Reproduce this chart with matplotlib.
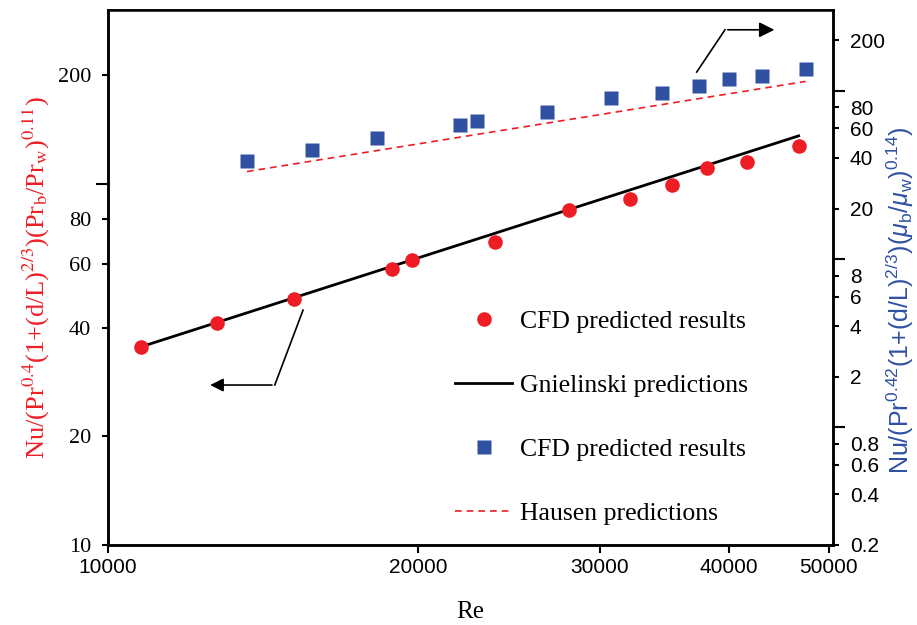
import numpy as np
import matplotlib
matplotlib.use("Agg")
import matplotlib.pyplot as plt
from matplotlib.ticker import FixedLocator, FuncFormatter, NullFormatter
from matplotlib.lines import Line2D

plt.rcParams['font.family'] = ['Liberation Sans', 'DejaVu Sans']
plt.rcParams['mathtext.fontset'] = 'custom'
plt.rcParams['mathtext.rm'] = 'Liberation Sans'
plt.rcParams['mathtext.it'] = 'Liberation Sans:italic'

# CFD results, left axis (red circles)
re_red = [10770, 12760, 15160, 18870, 19730, 23750, 28030, 32120, 35280, 38070, 41640, 46770]
nu_red = [35.4, 41.2, 48.0, 58.1, 61.6, 69.1, 84.7, 90.9, 99.4, 110.7, 115.0, 127.5]

# Gnielinski predictions (straight line in log-log)
re_gn = [10770, 46770]
nu_gn = [35.4, 135.8]

# CFD results, right axis (blue squares)
re_blue = [13640, 15780, 18240, 21970, 22820, 26680, 30780, 34500, 37400, 40000, 43050, 47500]
nu_blue = [38.1, 44.3, 52.2, 63.2, 65.9, 74.5, 90.3, 96.7, 106.5, 117.2, 122.1, 134.4]

# Hausen predictions
re_ha = [13640, 47500]
nu_ha = [33.2, 114.0]

x_ticks = [10000, 20000, 30000, 40000, 50000]
left_ticks = [10, 20, 40, 60, 80, 200]
left_decades = [100]
right_ticks = [0.2, 0.4, 0.6, 0.8, 2, 4, 6, 8, 20, 40, 60, 80, 200]
right_decades = [1, 10, 100]

red = '#ee1d24'
blue = '#3050a2'

fig = plt.figure(figsize=(9.17, 6.25), dpi=100)
ax = fig.add_subplot(111)
fig.subplots_adjust(left=0.1178, right=0.9084, top=0.984, bottom=0.128)
ax2 = ax.twinx()

ax.plot(re_gn, nu_gn, color='black', lw=2.0, zorder=3)
ax.plot(re_red, nu_red, 'o', color=red, ms=10.5, mec='none', zorder=4)
ax2.plot(re_ha, nu_ha, '--', color=red, lw=1.2, dashes=(4, 3))
ax2.plot(re_blue, nu_blue, 's', color=blue, ms=9.5, mec='none')

fmt = FuncFormatter(lambda v, p: f'{v:g}')
for a in (ax, ax2):
    a.set_xscale('log')
    a.set_yscale('log')
ax.set_xlim(10000, 50500)
ax.set_ylim(10, 303)
ax2.set_ylim(0.2, 303)

ax.xaxis.set_major_locator(FixedLocator(x_ticks))
ax.xaxis.set_major_formatter(fmt)
ax.xaxis.set_minor_locator(FixedLocator([]))
ax.yaxis.set_major_locator(FixedLocator(left_ticks))
ax.yaxis.set_major_formatter(fmt)
ax.yaxis.set_minor_locator(FixedLocator(left_decades))
ax.yaxis.set_minor_formatter(NullFormatter())
ax2.yaxis.set_major_locator(FixedLocator(right_ticks))
ax2.yaxis.set_major_formatter(fmt)
ax2.yaxis.set_minor_locator(FixedLocator(right_decades))
ax2.yaxis.set_minor_formatter(NullFormatter())

for a in (ax, ax2):
    a.tick_params(axis='y', which='major', length=4, width=1.5, labelsize=15,
                  colors='black', direction='out', pad=8)
    a.tick_params(axis='y', which='minor', length=8.5, width=1.5, direction='out')
    for s in a.spines.values():
        s.set_linewidth(1.8)
ax.tick_params(axis='x', which='major', length=6, width=1.5, labelsize=15, direction='out')
ax.spines['top'].set_linewidth(1.2)
for lbl in ax.get_yticklabels():
    lbl.set_family('Liberation Serif')
    lbl.set_fontsize(16)

ax.set_xlabel('Re', fontsize=18, family='Liberation Serif', labelpad=17)
ax.set_ylabel(r'Nu/(Pr$^{0.4}$(1+(d/L)$^{2/3}$)(Pr$_\mathrm{b}$/Pr$_\mathrm{w}$)$^{0.11}$)',
              fontsize=19, color=red, family='Liberation Serif', math_fontfamily='stix',
              labelpad=4)
ax2.set_ylabel(r'Nu/(Pr$^{0.42}$(1+(d/L)$^{2/3}$)($\mu_\mathrm{b}$/$\mu_\mathrm{w}$)$^{0.14}$)',
               fontsize=18, color=blue)
ax2.yaxis.set_label_coords(1.07, 0.458)

# arrows pointing to the axes
ax.annotate('', xy=(0.137, 0.299), xytext=(0.230, 0.299), xycoords='axes fraction',
            arrowprops=dict(arrowstyle='-|>', color='black', lw=1.2, mutation_scale=20))
ax.plot([0.269, 0.230], [0.439, 0.299], color='black', lw=1.2, transform=ax.transAxes)
ax2.annotate('', xy=(0.923, 0.963), xytext=(0.851, 0.963), xycoords='axes fraction',
             arrowprops=dict(arrowstyle='-|>', color='black', lw=1.2, mutation_scale=23))
ax2.plot([0.812, 0.851], [0.884, 0.963], color='black', lw=1.2, transform=ax2.transAxes)

handles = [
    Line2D([], [], ls='none', marker='o', color=red, ms=10.5, mec='none'),
    Line2D([], [], color='black', lw=2.0),
    Line2D([], [], ls='none', marker='s', color=blue, ms=9.5, mec='none'),
    Line2D([], [], ls='--', color=red, lw=1.2, dashes=(4, 3)),
]
labels = ['CFD predicted results', 'Gnielinski predictions',
          'CFD predicted results', 'Hausen predictions']
ax2.legend(handles, labels, loc='upper left', bbox_to_anchor=(0.479, 0.439),
           frameon=False, borderpad=0, borderaxespad=0, handlelength=2.2,
           handletextpad=0.31, labelspacing=1.6,
           prop={'family': 'Liberation Serif', 'size': 18.5})

fig.savefig('out.png', dpi=100)
